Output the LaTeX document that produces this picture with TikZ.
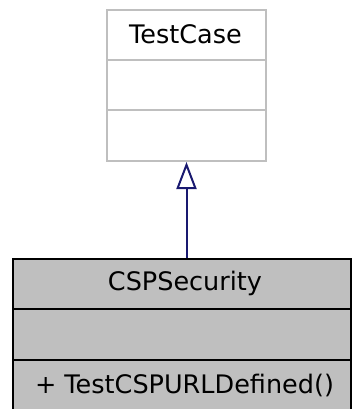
\documentclass[tikz,border=0pt]{standalone}
\usepackage{fontspec}
\setmainfont{DejaVu Sans}
\usetikzlibrary{arrows.meta}
\definecolor{boxgray}{HTML}{BFBFBF}
\definecolor{edgeblue}{HTML}{191970}
\tikzset{
  classbox/.style={rectangle, inner sep=0pt, minimum width=#1, minimum height=151pt},
  txt/.style={inner sep=0pt, font=\fontsize{25.5}{30}\selectfont, text=black},
  inherit/.style={draw=edgeblue, line width=2pt, -{Triangle[open, length=27pt, width=20pt, line width=2pt]}}
}
\begin{document}
\begin{tikzpicture}[x=1pt,y=-1pt]
\useasboundingbox (0,0) rectangle (351,409);
% TestCase
\node[classbox=159pt, draw=boxgray, fill=white, line width=2pt, anchor=north west] (tc) at (106,9) {};
\draw[boxgray, line width=2pt] (106,60) -- (265,60);
\draw[boxgray, line width=2pt] (106,110) -- (265,110);
\node[txt] (tct) at (185.5,34) {TestCase};
% CSPSecurity
\node[classbox=338pt, draw=black, fill=boxgray, line width=2pt, anchor=north west] (cs) at (12,258) {};
\draw[black, line width=2pt] (12,309) -- (350,309);
\draw[black, line width=2pt] (12,360) -- (350,360);
\node[txt] (cst) at (185,283) {CSPSecurity};
\node[txt] (csm) at (184.5,385) {+ TestCSPURLDefined()};
% inheritance
\draw[inherit] (cs.north -| tc.south) -- (tc.south);
\end{tikzpicture}
\end{document}
